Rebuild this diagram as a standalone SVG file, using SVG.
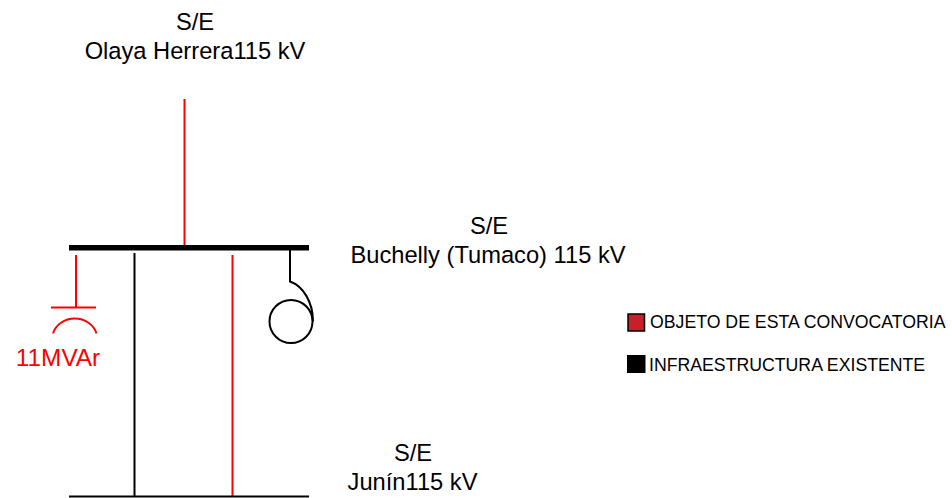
<svg xmlns="http://www.w3.org/2000/svg" width="952" height="498" viewBox="0 0 952 498">
<style>
text{font-family:"Liberation Sans",Arial,sans-serif;fill:#000}
.t{font-size:23.700px;text-anchor:middle}
.l{font-size:17.700px}
.k{stroke:#000;fill:none;stroke-width:2}
.r{stroke:#f00;fill:none;stroke-width:2}
</style>
<rect width="952" height="498" fill="#fff"/>
<g id="connectors">
<path class="r" d="M184.500 99V247"/>
<path class="k" d="M134.500 253V496"/>
<path class="r" d="M232.500 255V496"/>
</g>
<g id="bus-olaya"><text class="t" x="195" y="30">S/E</text><text class="t" x="195" y="59">Olaya Herrera115 kV</text></g>
<g id="bus-buchelly"><rect x="69" y="245" width="240" height="5.500" fill="#000"/><text class="t" x="489" y="234">S/E</text><text class="t" x="488" y="263">Buchelly (Tumaco) 115 kV</text></g>
<g id="bus-junin"><path class="k" d="M69 496.500H309"/><text class="t" x="413" y="461">S/E</text><text class="t" x="412.500" y="490">Junín115 kV</text></g>
<g id="capacitor"><path class="r" d="M76 255V307M51 307.500H96M53 333.500A22.500 20 0 0 1 96.500 333.500"/><text x="58" y="365.500" font-size="24.400" text-anchor="middle" style="fill:#f00">11MVAr</text></g>
<g id="reactor"><circle class="k" cx="291" cy="321.500" r="21.500"/><path class="k" d="M290 250V281.500C303 286 313 302 313 321.500"/></g>
<g id="legend-red"><rect x="628" y="314" width="16.500" height="17" fill="#c8202a" stroke="#000" stroke-width="1.500"/><text class="l" x="650" y="328">OBJETO DE ESTA CONVOCATORIA</text></g>
<g id="legend-black"><rect x="627" y="355" width="18.500" height="18" fill="#000"/><text class="l" x="649" y="371">INFRAESTRUCTURA EXISTENTE</text></g>
</svg>
